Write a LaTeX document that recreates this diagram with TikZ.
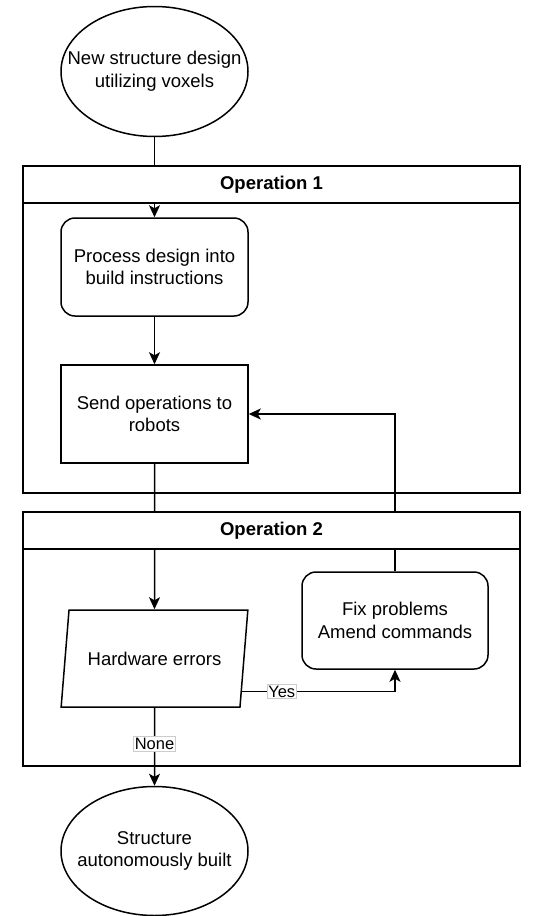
\documentclass[tikz,border=0pt]{standalone}
\usepackage{fontspec}
\setmainfont{Liberation Sans}
\usetikzlibrary{arrows.meta,shapes.geometric,calc}

\begin{document}
\begin{tikzpicture}[x=1pt, y=-1pt, line width=1.5pt,
  every node/.style={font=\fontsize{18.5}{22.6}\selectfont, align=center},
  term/.style={draw, ellipse, minimum width=187pt, minimum height=130pt, inner sep=0pt},
  procbox/.style={draw, rectangle, minimum width=187pt, minimum height=98pt},
  roundbox/.style={procbox, rounded corners=14pt},
  databox/.style={draw, trapezium, trapezium left angle=72.3, trapezium right angle=107.7, trapezium stretches=true, minimum width=187pt, minimum height=97pt},
  lanebody/.style={draw, rectangle, minimum width=497pt, inner sep=0pt},
  lanehead/.style={draw, fill=white, rectangle, minimum width=497pt, minimum height=37pt, font=\fontsize{18.5}{22.6}\selectfont\bfseries},
  tag/.style={fill=white, draw=black!20, line width=0.6pt, inner sep=1.5pt, font=\fontsize{16.5}{18}\selectfont},
  flow/.style={-{Stealth[length=12pt, width=11pt, inset=3pt]}}]
  \useasboundingbox (0,0) rectangle (547,916);

  %--- Swimlanes ---
  \node[lanebody, minimum height=327pt] (op1) at (271.5,329.5) {};
  \node[lanebody, minimum height=254pt] (op2) at (271.5,639) {};

  % Start / end
  \node[term, label={center:New structure design\\utilizing voxels}] (start) at (154.5,71.5) {};
  \node[term, minimum height=129pt, label={center:Structure\\autonomously built}] (done) at (154.5,851) {};

  % Steps
  \node[roundbox] (process) at (154.5,267) {Process design into\\build instructions};
  \node[procbox] (send) at (154.5,414) {Send operations to\\robots};
  \node[databox] (hwerr) at (154.5,658.5) {Hardware errors};
  \node[roundbox, minimum width=186pt, minimum height=97pt] (fix) at (395,620.5) {Fix problems\\Amend commands};

  % Arrows
  \draw[flow] (start.south) -- (process.north);
  \draw[flow] (process.south) -- (send.north);
  \draw[flow] (send.south) -- (hwerr.north);
  \draw[flow] ($(hwerr.bottom right corner)!0.165!(hwerr.top right corner)$) -| node[tag, pos=0.13] {Yes} (fix.south);
  \draw[flow] (fix.north) |- (send.east);
  \draw[flow] (hwerr.south) -- node[tag, pos=0.46] {None} (done.north);

  % Lane headers on top
  \node[lanehead] (op1head) at (271.5,184.5) {Operation 1};
  \node[lanehead] (op2head) at (271.5,530.5) {Operation 2};
\end{tikzpicture}
\end{document}
